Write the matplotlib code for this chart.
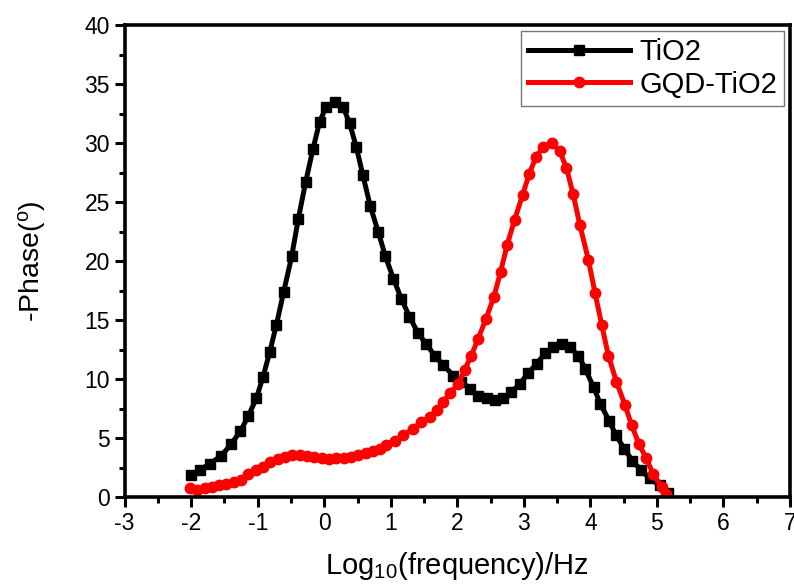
import matplotlib
matplotlib.use("Agg")
import matplotlib.pyplot as plt
from matplotlib.ticker import MultipleLocator

plt.rcParams['font.family'] = ['Liberation Sans', 'DejaVu Sans']
plt.rcParams['axes.unicode_minus'] = False

# TiO2 (black squares)
x_tio2 = [-2.00, -1.87, -1.72, -1.55, -1.40, -1.26, -1.14, -1.02, -0.92, -0.82,
          -0.72, -0.61, -0.49, -0.39, -0.28, -0.17, -0.07, 0.03, 0.16, 0.28,
          0.38, 0.48, 0.58, 0.69, 0.81, 0.92, 1.04, 1.16, 1.28, 1.41,
          1.53, 1.66, 1.79, 1.94, 2.06, 2.19, 2.31, 2.44, 2.56, 2.69,
          2.81, 2.94, 3.06, 3.19, 3.32, 3.44, 3.57, 3.69, 3.82, 3.92,
          4.05, 4.15, 4.28, 4.38, 4.51, 4.63, 4.76, 4.89, 5.04, 5.17]
y_tio2 = [1.86, 2.3, 2.85, 3.5, 4.5, 5.6, 6.9, 8.4, 10.2, 12.3,
          14.6, 17.4, 20.4, 23.6, 26.7, 29.5, 31.8, 33.1, 33.5, 33.1,
          31.7, 29.7, 27.3, 24.7, 22.5, 20.4, 18.5, 16.8, 15.3, 13.9,
          13.0, 12.0, 11.2, 10.3, 9.8, 9.2, 8.6, 8.4, 8.2, 8.4,
          8.9, 9.6, 10.5, 11.3, 12.2, 12.7, 13.0, 12.7, 12.0, 10.9,
          9.3, 7.9, 6.5, 5.3, 4.1, 3.1, 2.3, 1.6, 1.0, 0.4]

# GQD-TiO2 (red circles)
x_gqd = [-2.02, -1.91, -1.80, -1.69, -1.58, -1.47, -1.36, -1.25, -1.14, -1.03,
         -0.92, -0.81, -0.70, -0.59, -0.48, -0.37, -0.26, -0.15, -0.04, 0.07,
         0.18, 0.29, 0.40, 0.51, 0.62, 0.73, 0.84, 0.93, 1.06, 1.18,
         1.34, 1.46, 1.59, 1.69, 1.79, 1.89, 2.01, 2.11, 2.21, 2.31,
         2.43, 2.55, 2.65, 2.75, 2.86, 2.98, 3.08, 3.18, 3.29, 3.42,
         3.54, 3.64, 3.74, 3.84, 3.97, 4.07, 4.17, 4.27, 4.39, 4.52,
         4.62, 4.73, 4.84, 4.94, 5.07, 5.14]
y_gqd = [0.75, 0.65, 0.75, 0.9, 1.0, 1.15, 1.3, 1.45, 1.95, 2.3,
         2.6, 2.95, 3.25, 3.45, 3.6, 3.6, 3.5, 3.4, 3.3, 3.25,
         3.3, 3.35, 3.45, 3.6, 3.75, 3.95, 4.1, 4.4, 4.8, 5.25,
         5.8, 6.4, 6.8, 7.4, 8.1, 8.8, 9.6, 10.8, 12.0, 13.4,
         15.1, 17.0, 19.1, 21.4, 23.5, 25.6, 27.4, 28.8, 29.7, 30.0,
         29.3, 27.9, 25.7, 23.1, 20.1, 17.3, 14.6, 12.0, 9.8, 7.8,
         6.1, 4.5, 3.3, 2.0, 0.9, 0.3]

fig = plt.figure(figsize=(7.94, 5.85), dpi=100)
ax = fig.add_axes([0.157, 0.150, 0.838, 0.807])

ax.plot(x_tio2, y_tio2, color='black', linewidth=3.6, marker='s',
        markersize=6.5, label='TiO2')
ax.plot(x_gqd, y_gqd, color='red', linewidth=3.6, marker='o',
        markersize=7.5, label='GQD-TiO2')

ax.set_xlim(-3, 7)
ax.set_ylim(0, 40)
ax.xaxis.set_major_locator(MultipleLocator(1))
ax.xaxis.set_minor_locator(MultipleLocator(0.5))
ax.yaxis.set_major_locator(MultipleLocator(5))
ax.yaxis.set_minor_locator(MultipleLocator(2.5))

for s in ax.spines.values():
    s.set_linewidth(2.6)
ax.tick_params(which='both', direction='out', width=2.2, top=False, right=False,
               labelsize=16.5)
ax.tick_params(which='major', length=7)
ax.tick_params(which='minor', length=4)

ax.set_xlabel('Log$_{\\mathregular{10}}$(frequency)/Hz', fontsize=21, labelpad=11)
ax.set_ylabel('-Phase($\\mathregular{^{o}}$)', fontsize=20.5, labelpad=26)

leg = ax.legend(loc='upper right', fontsize=21, frameon=True, fancybox=False,
                handlelength=3.5, borderaxespad=0.2, borderpad=0.25,
                labelspacing=0.15, handletextpad=0.3)
leg.get_frame().set_edgecolor('#555555')
leg.get_frame().set_linewidth(1)

fig.savefig('out.png', dpi=100)
